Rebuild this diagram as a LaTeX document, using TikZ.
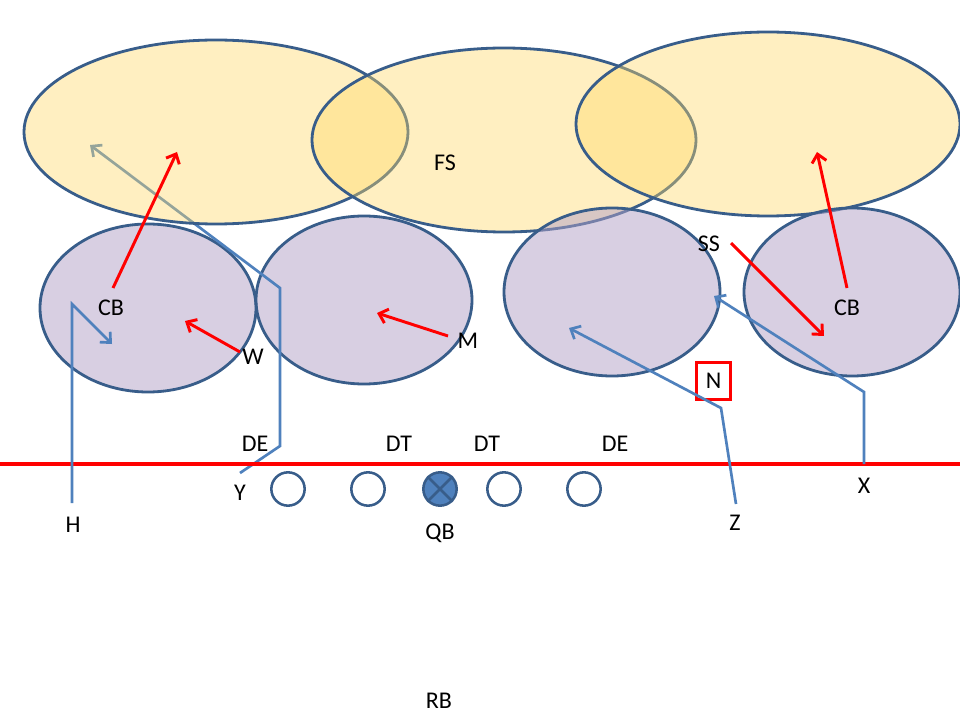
\documentclass[tikz,border=0pt]{standalone}
\usepackage{fontspec}
\setmainfont{Carlito}
\usetikzlibrary{arrows.meta,shapes.geometric}
\definecolor{outl}{RGB}{56,93,138}
\definecolor{yel}{RGB}{255,217,102}
\definecolor{pur}{RGB}{178,161,199}
\definecolor{route}{RGB}{79,129,189}
\definecolor{redl}{RGB}{255,0,0}
\begin{document}
\begin{tikzpicture}[x=0.75pt,y=-0.75pt,
  yzone/.style={ellipse,draw=outl,line width=2.1pt,fill=yel,fill opacity=0.4,draw opacity=1,
    minimum width=288pt,minimum height=138pt,inner sep=0pt},
  pzone/.style={ellipse,draw=outl,line width=2.1pt,fill=pur,fill opacity=0.5,draw opacity=1,
    minimum width=162pt,minimum height=126pt,inner sep=0pt},
  lbl/.style={font=\fontsize{18}{20}\selectfont,inner sep=0pt,text=black},
  olin/.style={circle,draw=outl,line width=1.9pt,minimum size=25pt,inner sep=0pt},
  redarr/.style={draw=redl,line width=2.2pt,-{Straight Barb[length=6pt,width=11pt]}},
  bluearr/.style={draw=route,line width=2pt,line join=miter,-{Straight Barb[length=6pt,width=11pt]}},
  bluelin/.style={draw=route,line width=2pt,line join=miter}]
\useasboundingbox (0,0) rectangle (960,720);
\fill[white] (0,0) rectangle (960,720);

% purple zones (left pair)
\node[pzone] (p1) at (148,308) {};
\node[pzone] (p2) at (364,300) {};

% Y route (under the deep zones)
\coordinate (y0) at (240,473);
\coordinate (y1) at (280,446);
\coordinate (y2) at (280,288);
\coordinate (y3) at (90,145);
\draw[bluearr] (y0) -- (y1) -- (y2) -- (y3);

% yellow zones
\node[yzone] (z1) at (216,132) {};
\node[yzone] (z2) at (504,140) {};
\node[yzone] (z3) at (768,124) {};

% purple zones (right pair)
\node[pzone] (p3) at (612,292) {};
\node[pzone] (p4) at (852,292) {};

% line of scrimmage
\coordinate (losL) at (0,464);
\coordinate (losR) at (960,464);
\draw[draw=redl,line width=2.5pt] (losL) -- (losR);

% offensive line
\node[olin] (o1) at (288,489) {};
\node[olin] (o2) at (368,489) {};
\node[olin,fill=route] (qbc) at (440,489) {};
\draw[outl,line width=1.9pt] (qbc.45) -- (qbc.225) (qbc.135) -- (qbc.315);
\node[olin] (o4) at (504,489) {};
\node[olin] (o5) at (584,489) {};

% labels
\node[lbl] (fs) at (445,163) {FS};
\node[lbl] (cb1) at (111,308) {CB};
\node[lbl] (w) at (253,357) {W};
\node[lbl] (m) at (468,341) {M};
\node[lbl] (ss) at (709,244) {SS};
\node[lbl] (cb2) at (847,308) {CB};
\node[lbl,draw=redl,line width=2.1pt,minimum width=26pt,minimum height=28pt] (n) at (713.5,381) {N};
\node[lbl] (de1) at (255,444) {DE};
\node[lbl] (dt1) at (399,444) {DT};
\node[lbl] (dt2) at (487,444) {DT};
\node[lbl] (de2) at (615,444) {DE};
\node[lbl] (ylab) at (240,493) {Y};
\node[lbl] (h) at (73,525) {H};
\node[lbl] (qb) at (440,533) {QB};
\node[lbl] (zl) at (735,523) {Z};
\node[lbl] (xl) at (864,486) {X};
\node[lbl] (rb) at (439,701) {RB};

% red defender arrows
\coordinate (cb1s) at (113,288);
\coordinate (cb1t) at (177,152);
\draw[redarr] (cb1s) -- (cb1t);
\coordinate (ws) at (240,352);
\coordinate (wt) at (185,321);
\draw[redarr] (ws) -- (wt);
\coordinate (ms) at (448,336);
\coordinate (mt) at (377,313);
\draw[redarr] (ms) -- (mt);
\coordinate (sss) at (731,243);
\coordinate (sst) at (824,336);
\draw[redarr] (sss) -- (sst);
\coordinate (cb2s) at (847,288);
\coordinate (cb2t) at (817,152);
\draw[redarr] (cb2s) -- (cb2t);

% blue receiver routes
\coordinate (h0) at (72,503);
\coordinate (h1) at (72,304);
\coordinate (h2) at (112,344);
\draw[bluearr] (h0) -- (h1) -- (h2);
\coordinate (zr0) at (736,504);
\coordinate (zr1) at (721,408);
\coordinate (zr2) at (569,328);
\draw[bluearr] (zr0) -- (zr1) -- (zr2);
\coordinate (x0) at (864,464);
\coordinate (x1) at (864,392);
\coordinate (x2) at (714,296);
\draw[bluearr] (x0) -- (x1) -- (x2);
\end{tikzpicture}
\end{document}
